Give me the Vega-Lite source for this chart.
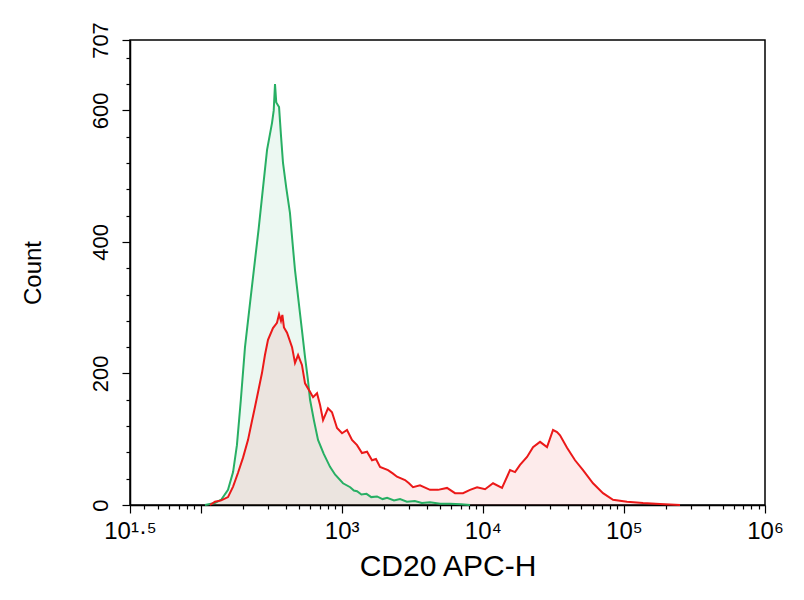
{
  "$schema": "https://vega.github.io/schema/vega-lite/v6.json",
  "autosize": "none",
  "width": 635,
  "height": 465,
  "padding": {"left": 130, "top": 40, "right": 39, "bottom": 95},
  "background": "white",
  "config": {
    "view": {"stroke": "black", "strokeWidth": 1.5},
    "font": "Liberation Sans",
    "axis": {"grid": false, "domainColor": "black", "domainWidth": 1.5, "tickColor": "black", "tickWidth": 1.2, "labelColor": "black", "titleColor": "black", "labelFont": "Liberation Sans", "titleFont": "Liberation Sans", "titleFontWeight": "normal", "labelFlush": false, "labelOverlap": false}
  },
  "data": {
    "values": [
      {"series": "control", "x": 107.5, "count": 0},
      {"series": "control", "x": 126, "count": 3},
      {"series": "control", "x": 140, "count": 8},
      {"series": "control", "x": 156.5, "count": 23},
      {"series": "control", "x": 170, "count": 50},
      {"series": "control", "x": 181, "count": 91},
      {"series": "control", "x": 193, "count": 160},
      {"series": "control", "x": 206.5, "count": 240},
      {"series": "control", "x": 225, "count": 310},
      {"series": "control", "x": 243, "count": 372},
      {"series": "control", "x": 258, "count": 420},
      {"series": "control", "x": 272.6, "count": 468},
      {"series": "control", "x": 296, "count": 540},
      {"series": "control", "x": 321, "count": 581},
      {"series": "control", "x": 330, "count": 600},
      {"series": "control", "x": 337, "count": 640},
      {"series": "control", "x": 344, "count": 612},
      {"series": "control", "x": 360, "count": 605},
      {"series": "control", "x": 372, "count": 560},
      {"series": "control", "x": 384, "count": 520},
      {"series": "control", "x": 405, "count": 482},
      {"series": "control", "x": 430, "count": 444},
      {"series": "control", "x": 448, "count": 400},
      {"series": "control", "x": 467, "count": 357},
      {"series": "control", "x": 495, "count": 310},
      {"series": "control", "x": 523, "count": 266},
      {"series": "control", "x": 550, "count": 225},
      {"series": "control", "x": 577, "count": 190},
      {"series": "control", "x": 597, "count": 160},
      {"series": "control", "x": 637, "count": 128},
      {"series": "control", "x": 680, "count": 99},
      {"series": "control", "x": 745, "count": 78},
      {"series": "control", "x": 827, "count": 58},
      {"series": "control", "x": 900, "count": 46},
      {"series": "control", "x": 1022, "count": 33},
      {"series": "control", "x": 1150, "count": 27},
      {"series": "control", "x": 1220, "count": 22},
      {"series": "control", "x": 1285, "count": 21},
      {"series": "control", "x": 1380, "count": 16},
      {"series": "control", "x": 1500, "count": 17},
      {"series": "control", "x": 1620, "count": 12},
      {"series": "control", "x": 1781, "count": 13},
      {"series": "control", "x": 1950, "count": 9},
      {"series": "control", "x": 2100, "count": 11},
      {"series": "control", "x": 2350, "count": 7},
      {"series": "control", "x": 2591, "count": 9},
      {"series": "control", "x": 2900, "count": 5},
      {"series": "control", "x": 3300, "count": 6},
      {"series": "control", "x": 3700, "count": 3},
      {"series": "control", "x": 4227, "count": 4},
      {"series": "control", "x": 5000, "count": 2},
      {"series": "control", "x": 5860, "count": 2},
      {"series": "control", "x": 7000, "count": 1},
      {"series": "control", "x": 8128, "count": 0},

      {"series": "CD20", "x": 116.7, "count": 0},
      {"series": "CD20", "x": 126.5, "count": 5},
      {"series": "CD20", "x": 140, "count": 7},
      {"series": "CD20", "x": 156.5, "count": 12},
      {"series": "CD20", "x": 170, "count": 28},
      {"series": "CD20", "x": 184.3, "count": 49},
      {"series": "CD20", "x": 200, "count": 72},
      {"series": "CD20", "x": 217, "count": 99},
      {"series": "CD20", "x": 230, "count": 125},
      {"series": "CD20", "x": 243, "count": 149},
      {"series": "CD20", "x": 258, "count": 176},
      {"series": "CD20", "x": 272.6, "count": 201},
      {"series": "CD20", "x": 286, "count": 228},
      {"series": "CD20", "x": 300.6, "count": 251},
      {"series": "CD20", "x": 326, "count": 269},
      {"series": "CD20", "x": 348, "count": 277},
      {"series": "CD20", "x": 360, "count": 290},
      {"series": "CD20", "x": 371.5, "count": 280},
      {"series": "CD20", "x": 380, "count": 289},
      {"series": "CD20", "x": 390, "count": 270},
      {"series": "CD20", "x": 410, "count": 262},
      {"series": "CD20", "x": 445, "count": 240},
      {"series": "CD20", "x": 467, "count": 216},
      {"series": "CD20", "x": 491, "count": 228},
      {"series": "CD20", "x": 523, "count": 213},
      {"series": "CD20", "x": 550, "count": 185},
      {"series": "CD20", "x": 597, "count": 172},
      {"series": "CD20", "x": 627, "count": 164},
      {"series": "CD20", "x": 669, "count": 170},
      {"series": "CD20", "x": 703, "count": 152},
      {"series": "CD20", "x": 738, "count": 129},
      {"series": "CD20", "x": 800, "count": 147},
      {"series": "CD20", "x": 854, "count": 141},
      {"series": "CD20", "x": 927, "count": 117},
      {"series": "CD20", "x": 1006, "count": 109},
      {"series": "CD20", "x": 1091, "count": 114},
      {"series": "CD20", "x": 1184, "count": 99},
      {"series": "CD20", "x": 1285, "count": 91},
      {"series": "CD20", "x": 1393, "count": 79},
      {"series": "CD20", "x": 1513, "count": 81},
      {"series": "CD20", "x": 1641, "count": 68},
      {"series": "CD20", "x": 1750, "count": 70},
      {"series": "CD20", "x": 1871, "count": 58},
      {"series": "CD20", "x": 2131, "count": 53},
      {"series": "CD20", "x": 2300, "count": 48},
      {"series": "CD20", "x": 2467, "count": 43},
      {"series": "CD20", "x": 2812, "count": 38},
      {"series": "CD20", "x": 3000, "count": 33},
      {"series": "CD20", "x": 3204, "count": 27},
      {"series": "CD20", "x": 3590, "count": 30},
      {"series": "CD20", "x": 4227, "count": 23},
      {"series": "CD20", "x": 4816, "count": 23},
      {"series": "CD20", "x": 5580, "count": 26},
      {"series": "CD20", "x": 6358, "count": 18},
      {"series": "CD20", "x": 7244, "count": 18},
      {"series": "CD20", "x": 8121, "count": 23},
      {"series": "CD20", "x": 9110, "count": 27},
      {"series": "CD20", "x": 10380, "count": 24},
      {"series": "CD20", "x": 11825, "count": 33},
      {"series": "CD20", "x": 13690, "count": 26},
      {"series": "CD20", "x": 15600, "count": 53},
      {"series": "CD20", "x": 16930, "count": 50},
      {"series": "CD20", "x": 18360, "count": 61},
      {"series": "CD20", "x": 20590, "count": 73},
      {"series": "CD20", "x": 22700, "count": 88},
      {"series": "CD20", "x": 25450, "count": 96},
      {"series": "CD20", "x": 28530, "count": 88},
      {"series": "CD20", "x": 31470, "count": 114},
      {"series": "CD20", "x": 33590, "count": 111},
      {"series": "CD20", "x": 35280, "count": 106},
      {"series": "CD20", "x": 39550, "count": 87},
      {"series": "CD20", "x": 45070, "count": 68},
      {"series": "CD20", "x": 51340, "count": 53},
      {"series": "CD20", "x": 60440, "count": 33},
      {"series": "CD20", "x": 71120, "count": 18},
      {"series": "CD20", "x": 83750, "count": 8},
      {"series": "CD20", "x": 105300, "count": 5},
      {"series": "CD20", "x": 136700, "count": 3},
      {"series": "CD20", "x": 180300, "count": 1.5},
      {"series": "CD20", "x": 250000, "count": 0}
    ]
  },
  "encoding": {
    "x": {
      "field": "x", "type": "quantitative",
      "scale": {"type": "log", "domain": [31.6228, 1000000], "nice": false},
      "axis": {
        "title": "CD20 APC-H",
        "titleFontSize": 30,
        "titlePadding": 8,
        "labelFontSize": 24,
        "labelPadding": 6,
        "values": [31.6228, 40, 50, 60, 70, 80, 90, 100, 200, 300, 400, 500, 600, 700, 800, 900, 1000, 2000, 3000, 4000, 5000, 6000, 7000, 8000, 9000, 10000, 20000, 30000, 40000, 50000, 60000, 70000, 80000, 90000, 100000, 200000, 300000, 400000, 500000, 600000, 700000, 800000, 900000, 1000000],
        "labelExpr": "datum.value < 35 ? '10¹·⁵' : datum.value == 1000 ? '10³' : datum.value == 10000 ? '10⁴' : datum.value == 100000 ? '10⁵' : datum.value == 1000000 ? '10⁶' : ''",
        "tickSize": {"condition": {"test": "datum.value < 35 || datum.value == 100 || datum.value == 1000 || datum.value == 10000 || datum.value == 100000 || datum.value == 1000000", "value": 8}, "value": 4}
      }
    },
    "y": {
      "field": "count", "type": "quantitative", "stack": null,
      "scale": {"domain": [0, 707], "nice": false},
      "axis": {
        "title": "Count",
        "titleFontSize": 24,
        "titlePadding": 44,
        "labelFontSize": 22,
        "labelAngle": -90,
        "labelAlign": "center",
        "labelBaseline": "bottom",
        "labelPadding": 10,
        "values": [0, 40, 80, 120, 160, 200, 240, 280, 320, 360, 400, 440, 480, 520, 560, 600, 640, 680, 707],
        "labelExpr": "(datum.value == 0 || datum.value == 200 || datum.value == 400 || datum.value == 600 || datum.value == 707) ? datum.label : ''",
        "tickSize": {"condition": {"test": "datum.value == 0 || datum.value == 200 || datum.value == 400 || datum.value == 600 || datum.value == 707", "value": 8}, "value": 4}
      }
    }
  },
  "layer": [
    {
      "mark": {"type": "area", "fillOpacity": 0.085, "interpolate": "linear"},
      "encoding": {
        "fill": {
          "field": "series", "type": "nominal",
          "scale": {"domain": ["control", "CD20"], "range": ["#28af64", "#eb1919"]},
          "legend": null
        }
      }
    },
    {
      "mark": {"type": "line", "strokeWidth": 2, "interpolate": "linear"},
      "encoding": {
        "stroke": {
          "field": "series", "type": "nominal",
          "scale": {"domain": ["control", "CD20"], "range": ["#28af64", "#eb1919"]},
          "legend": null
        },
        "order": {"field": "x", "type": "quantitative"}
      }
    }
  ]
}
